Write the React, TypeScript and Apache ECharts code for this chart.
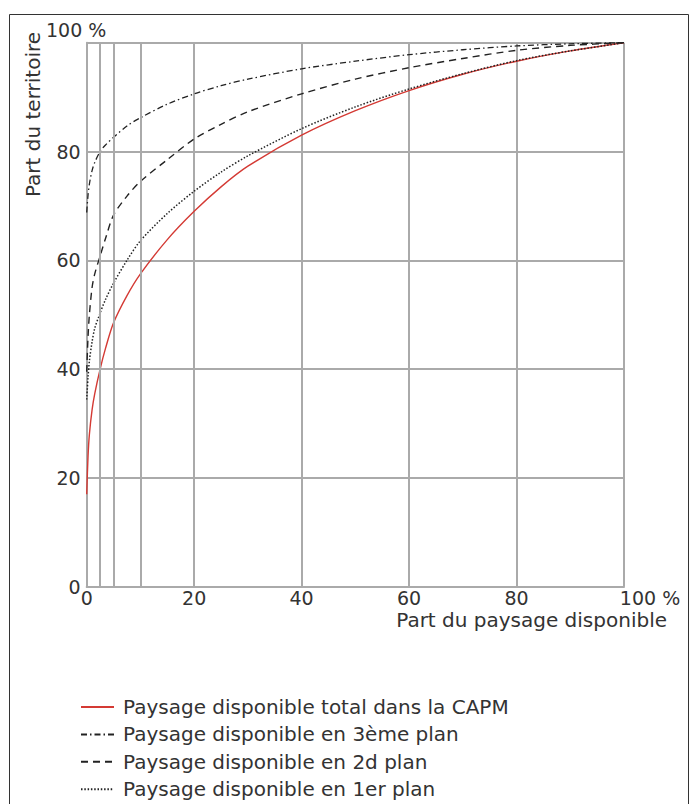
import React, { useEffect, useRef } from "react";
import * as echarts from "echarts";

const xValues = [0, 0.25, 0.5, 1, 1.5, 2.5, 3.5, 5, 7.5, 10, 15, 20, 25, 30, 40, 50, 60, 70, 80, 90, 100];
const totalValues = [17, 24, 28, 32.5, 35.5, 40, 43.8, 48.5, 53.5, 57.5, 63.8, 69.0, 73.5, 77.3, 83, 87.5, 91.2, 94.2, 96.6, 98.5, 100];
const plan3Values = [68.8, 72, 74, 76.5, 78, 80, 81.2, 82.6, 84.7, 86.2, 88.7, 90.6, 92.1, 93.3, 95.2, 96.6, 97.8, 98.7, 99.4, 99.8, 100];
const plan2Values = [39.5, 46, 50, 55, 57.5, 60.8, 64, 68.3, 71.8, 74.5, 78.5, 82.3, 85, 87.3, 90.6, 93.3, 95.4, 97.1, 98.6, 99.5, 100];
const plan1Values = [34.4, 38.5, 41.5, 45, 47.5, 50.3, 52.8, 55.8, 60, 63.6, 68.6, 72.7, 76.2, 79.2, 84.2, 88.2, 91.5, 94.3, 96.7, 98.5, 100];

const seriesNames = [
  "Paysage disponible total dans la CAPM",
  "Paysage disponible en 3ème plan",
  "Paysage disponible en 2d plan",
  "Paysage disponible en 1er plan",
];
const extraGridX = [2.5, 5, 10];
const xTitle = "Part du paysage disponible";
const yTitle = "Part du territoire";

const FONT = "DejaVu Sans";
const GRID = "#aaaaaa";
const TEXT = "#333333";

export default function App() {
  const ref = useRef<HTMLDivElement>(null);
  useEffect(() => {
    if (!ref.current) return;
    const chart = echarts.init(ref.current, null, { renderer: "svg" });
    const pair = (vals: number[]) => xValues.map((x, i) => [x, vals[i]]);
    const base = {
      type: "line" as const,
      showSymbol: false,
      symbol: "none",
      smooth: 0.3,
      z: 3,
    };
    chart.setOption({
      animation: false,
      backgroundColor: "#ffffff",
      grid: {
        left: 86.7,
        right: 66,
        top: 42.7,
        bottom: 217.3,
        containLabel: false,
        outerBoundsMode: "none",
      },
      xAxis: {
        type: "value",
        min: 0,
        max: 100,
        interval: 20,
        axisLine: { show: true, lineStyle: { color: GRID, width: 2 } },
        axisTick: { show: false },
        splitLine: { show: true, lineStyle: { color: GRID, width: 2 } },
        axisLabel: {
          margin: 2,
          fontSize: 19,
          lineHeight: 18,
          fontFamily: FONT,
          color: TEXT,
          formatter: (v: number) => (v === 100 ? "{p|100 %}" : String(v)),
          rich: {
            p: { padding: [0, 0, 0, 52], fontSize: 19, lineHeight: 18, fontFamily: FONT, color: TEXT },
          },
        },
      },
      yAxis: {
        type: "value",
        min: 0,
        max: 100,
        interval: 20,
        axisLine: { show: true, lineStyle: { color: GRID, width: 2 } },
        axisTick: { show: false },
        splitLine: { show: true, lineStyle: { color: GRID, width: 2 } },
        axisLabel: {
          margin: 6,
          fontSize: 19,
          fontFamily: FONT,
          color: TEXT,
          formatter: (v: number) => (v === 100 ? "" : String(v)),
        },
        name: "100 %",
        nameLocation: "end",
        nameGap: 3,
        nameTextStyle: {
          align: "center",
          padding: [0, 21, 0, 0],
          fontSize: 19,
          fontFamily: FONT,
          color: TEXT,
        },
      },
      legend: {
        orient: "vertical",
        left: 75,
        top: 692,
        height: 110,
        itemWidth: 33,
        itemHeight: 14,
        itemGap: 7.4,
        data: seriesNames,
        lineStyle: { width: 2 },
        itemStyle: { opacity: 0 },
        textStyle: {
          fontSize: 20,
          lineHeight: 20,
          fontFamily: FONT,
          color: TEXT,
          padding: [0, 0, 0, 4],
        },
      },
      graphic: [
        {
          type: "rect",
          shape: { x: 9.5, y: 14.5, width: 679, height: 800 },
          style: { fill: "none", stroke: "#333", lineWidth: 1 },
          silent: true,
        },
        {
          type: "text",
          x: 33,
          y: 114.5,
          rotation: Math.PI / 2,
          style: {
            text: yTitle,
            fontSize: 20,
            fontFamily: FONT,
            fill: TEXT,
            align: "center",
            verticalAlign: "middle",
          },
        },
        {
          type: "text",
          x: 667,
          y: 620,
          style: {
            text: xTitle,
            fontSize: 20,
            lineHeight: 20,
            fontFamily: FONT,
            fill: TEXT,
            align: "right",
            verticalAlign: "middle",
          },
        },
      ],
      series: [
        {
          type: "line",
          data: [],
          z: 1,
          silent: true,
          markLine: {
            silent: true,
            symbol: "none",
            label: { show: false },
            lineStyle: { color: GRID, width: 2, type: "solid" },
            data: extraGridX.map((x) => ({ xAxis: x })),
          },
        },
        {
          ...base,
          name: seriesNames[0],
          data: pair(totalValues),
          color: "#d43a34",
          lineStyle: { color: "#d43a34", width: 1.4, type: "solid" },
        },
        {
          ...base,
          name: seriesNames[1],
          data: pair(plan3Values),
          color: "#222",
          lineStyle: { color: "#222", width: 1.3, type: [6, 3, 1.5, 3] },
        },
        {
          ...base,
          name: seriesNames[2],
          data: pair(plan2Values),
          color: "#222",
          lineStyle: { color: "#222", width: 1.4, type: [7, 5] },
        },
        {
          ...base,
          name: seriesNames[3],
          data: pair(plan1Values),
          color: "#222",
          lineStyle: { color: "#222", width: 1.5, type: [1.5, 1.8] },
        },
      ],
    });
    return () => chart.dispose();
  }, []);
  return (
    <div
      ref={ref}
      style={{ position: "absolute", left: 0, top: 0, width: 690, height: 804 }}
    />
  );
}
